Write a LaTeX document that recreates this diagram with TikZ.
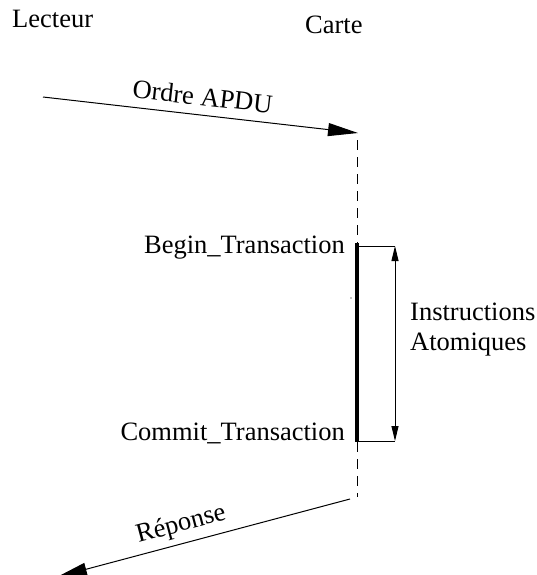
\documentclass[tikz,border=0pt]{standalone}
\usepackage{fontspec}
\setmainfont{Liberation Serif}
\usetikzlibrary{arrows.meta}
\begin{document}
\begin{tikzpicture}[x=1pt,y=-1pt,
  lbl/.style={inner sep=0pt,font=\fontsize{26.5}{31}\selectfont},
  msg/.style={line width=1pt,-{Triangle[length=30pt,width=13pt]}},
  life/.style={line width=1pt,dash pattern=on 10pt off 7pt},
  act/.style={line width=3.2pt},
  span/.style={line width=0.9pt,{Triangle[length=15pt,width=7pt]}-{Triangle[length=15pt,width=7pt]}}]
\useasboundingbox (0,0) rectangle (537,575);
\clip (0,0) rectangle (537,575);
% actor headings
\node[lbl,anchor=base west] (lecteur) at (12,28) {Lecteur};
\node[lbl,anchor=base west] (carte) at (305,34) {Carte};
% lifeline of the card
\coordinate (in) at (358,133);
\coordinate (b) at (357,243);
\coordinate (c) at (357,442);
\coordinate (out) at (350,499);
\coordinate (top) at (357,140);
\coordinate (bot) at (357,497);
\draw[life] (top) -- (b);
\draw[act] (b) -- (c);
\draw[life] (c) -- (bot);
% request from the reader
\coordinate (src) at (43,97);
\draw[msg] (src) -- (in) node[lbl,midway,above=9pt,sloped] (ordre) {Ordre APDU};
% reply to the reader
\coordinate (dst) at (57,577);
\draw[msg] (out) -- (dst) node[lbl,pos=0.56,above=6pt,sloped] (rep) {Réponse};
% transaction bounds
\node[lbl,anchor=base east] (begin) at (345,253) {Begin\_Transaction};
\node[lbl,anchor=base east] (commit) at (345,440) {Commit\_Transaction};
\coordinate (bt) at (395,246);
\coordinate (bb) at (395,441);
\draw[line width=0.9pt] (357,246) -- (bt);
\draw[line width=0.9pt] (357,441) -- (bb);
\draw[span] (bt) -- (bb);
\node[lbl,anchor=base west,align=left] (instr) at (410,320) {Instructions};
\node[lbl,anchor=base west,align=left] (atom) at (410,350) {Atomiques};
\fill (351,298) circle (0.6pt);
\end{tikzpicture}
\end{document}
